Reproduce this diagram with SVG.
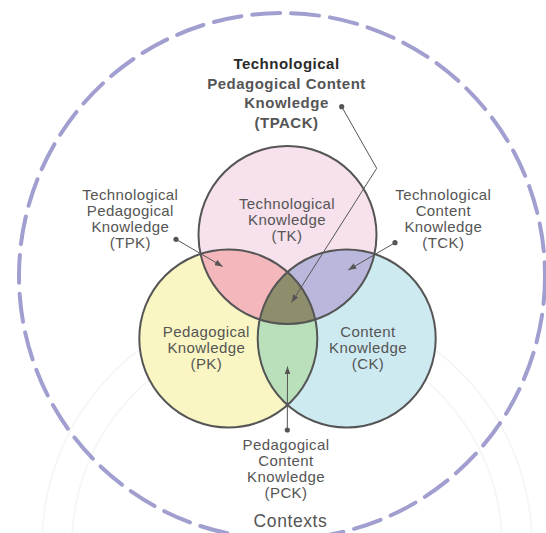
<svg xmlns="http://www.w3.org/2000/svg" width="546" height="533" viewBox="0 0 546 533">
  <style>
    .lbl { font-family: "Liberation Sans", Arial, sans-serif; font-size: 15px; fill: #555; text-anchor: middle; letter-spacing: 0.4px; }
    .big { font-family: "Liberation Sans", Arial, sans-serif; font-size: 15px; font-weight: bold; fill: #555; text-anchor: middle; letter-spacing: 0.5px; }
    .ctx { font-family: "Liberation Sans", Arial, sans-serif; font-size: 17.5px; fill: #555; text-anchor: middle; letter-spacing: 0.6px; }
    .ring { fill: none; stroke: #555; stroke-width: 2; }
    .conn { fill: none; stroke: #555; stroke-width: 1; }
    .dot { fill: #555; }
    .wm { fill: none; stroke: #000; stroke-opacity: 0.035; stroke-width: 2; }
  </style>
  <defs>
    <clipPath id="cTK"><circle cx="287.5" cy="235" r="89"/></clipPath>
    <clipPath id="cPK"><circle cx="228.3" cy="338.5" r="89"/></clipPath>
    <clipPath id="cCK"><circle cx="346.7" cy="338.5" r="89"/></clipPath>
    <marker id="arr" viewBox="0 0 8 6" markerWidth="8" markerHeight="6" refX="8" refY="3" orient="auto" markerUnits="userSpaceOnUse">
      <path d="M0,0 L8,3 L0,6 z" fill="#555"/>
    </marker>
  </defs>
  <rect x="0" y="0" width="546" height="533" fill="#fff"/>

  <g id="contexts">
    <circle cx="282" cy="276" r="263" fill="none" stroke="#a09fd0" stroke-width="4" stroke-dasharray="28 11" stroke-linecap="round"/>
    <text class="ctx" x="290.5" y="526.5">Contexts</text>
  </g>

  <g id="watermark">
    <circle class="wm" cx="287" cy="545" r="245"/>
    <circle class="wm" cx="287" cy="545" r="215"/>
  </g>

  <g id="fills">
    <circle cx="287.5" cy="235" r="89" fill="#f6e1ec"/>
    <circle cx="228.3" cy="338.5" r="89" fill="#faf6c3"/>
    <circle cx="346.7" cy="338.5" r="89" fill="#cdeaf1"/>
    <circle cx="228.3" cy="338.5" r="89" fill="#f4b8bc" clip-path="url(#cTK)"/>
    <circle cx="346.7" cy="338.5" r="89" fill="#b9b8dc" clip-path="url(#cTK)"/>
    <circle cx="346.7" cy="338.5" r="89" fill="#badfbb" clip-path="url(#cPK)"/>
    <g clip-path="url(#cTK)">
      <circle cx="346.7" cy="338.5" r="89" fill="#8e8d6c" clip-path="url(#cPK)"/>
    </g>
  </g>

  <g id="TK">
    <circle class="ring" cx="287.5" cy="235" r="89"/>
    <text class="lbl" x="287" y="209">Technological</text>
    <text class="lbl" x="287" y="225">Knowledge</text>
    <text class="lbl" x="287" y="241">(TK)</text>
  </g>
  <g id="PK">
    <circle class="ring" cx="228.3" cy="338.5" r="89"/>
    <text class="lbl" x="206.3" y="337">Pedagogical</text>
    <text class="lbl" x="206.3" y="353">Knowledge</text>
    <text class="lbl" x="206.3" y="369">(PK)</text>
  </g>
  <g id="CK">
    <circle class="ring" cx="346.7" cy="338.5" r="89"/>
    <text class="lbl" x="368" y="337">Content</text>
    <text class="lbl" x="368" y="353">Knowledge</text>
    <text class="lbl" x="368" y="369">(CK)</text>
  </g>

  <g id="TPACK">
    <text class="big" x="286.5" y="69" style="fill:#2a2a2a">Technological</text>
    <text class="big" x="286.5" y="88.5">Pedagogical Content</text>
    <text class="big" x="286.5" y="108">Knowledge</text>
    <text class="big" x="286.5" y="127.5">(TPACK)</text>
  </g>
  <g id="TPK">
    <text class="lbl" x="130.3" y="199.5">Technological</text>
    <text class="lbl" x="130.3" y="215.5">Pedagogical</text>
    <text class="lbl" x="130.3" y="231.5">Knowledge</text>
    <text class="lbl" x="130.3" y="247.5">(TPK)</text>
  </g>
  <g id="TCK">
    <text class="lbl" x="443.3" y="199.5">Technological</text>
    <text class="lbl" x="443.3" y="215.5">Content</text>
    <text class="lbl" x="443.3" y="231.5">Knowledge</text>
    <text class="lbl" x="443.3" y="247.5">(TCK)</text>
  </g>
  <g id="PCK">
    <text class="lbl" x="286" y="450">Pedagogical</text>
    <text class="lbl" x="286" y="466">Content</text>
    <text class="lbl" x="286" y="482">Knowledge</text>
    <text class="lbl" x="286" y="498">(PCK)</text>
  </g>

  <g id="connectors">
    <polyline class="conn" points="341.7,106.7 376.7,168.3 291.5,302.5" marker-end="url(#arr)"/>
    <circle class="dot" cx="341.7" cy="106.7" r="2.6"/>
    <line class="conn" x1="176" y1="239.3" x2="222.7" y2="266.5" marker-end="url(#arr)"/>
    <circle class="dot" cx="176" cy="239.3" r="2.6"/>
    <line class="conn" x1="395" y1="242.7" x2="348.3" y2="270" marker-end="url(#arr)"/>
    <circle class="dot" cx="395" cy="242.7" r="2.6"/>
    <line class="conn" x1="287.3" y1="430" x2="287.5" y2="366.5" marker-end="url(#arr)"/>
    <circle class="dot" cx="287.3" cy="430" r="2.6"/>
  </g>
</svg>
